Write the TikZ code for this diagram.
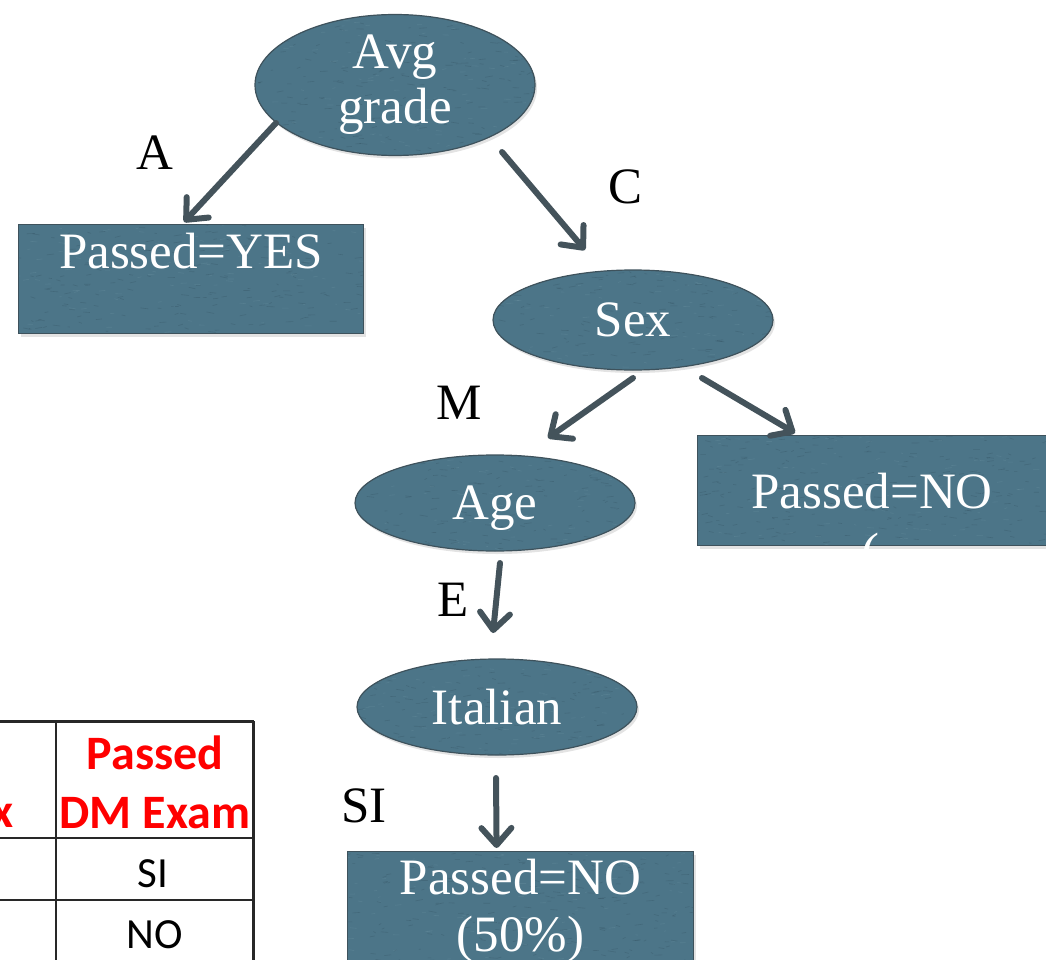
\documentclass[tikz,border=0pt]{standalone}
\usepackage{fontspec}
\setmainfont{Liberation Serif}
\newfontfamily\tablefont{Carlito}
\usetikzlibrary{shapes.geometric,arrows.meta,calc,shadows}

\definecolor{tile}{RGB}{76,117,136}
\definecolor{tiledark}{RGB}{38,62,76}
\definecolor{tilelight}{RGB}{118,156,170}
\definecolor{tileedge}{RGB}{62,82,92}
\definecolor{arrowgray}{RGB}{68,83,91}
\definecolor{examred}{RGB}{255,0,0}
\definecolor{gridline}{RGB}{40,40,40}

\tikzset{
  grain/.style={path picture={
    \foreach \k in {1,...,260}{
      \draw[line width=0.6pt, tiledark, opacity=0.22]
        ([shift={({185*rand},{70*rand})}]path picture bounding box.center)
        -- ++({2+6*rnd},{1.5*rand});
    }
    \foreach \k in {1,...,120}{
      \draw[line width=0.6pt, tilelight, opacity=0.25]
        ([shift={({185*rand},{70*rand})}]path picture bounding box.center)
        -- ++({2+5*rnd},{rand});
    }
  }},
  tileshape/.style={fill=tile, draw=tileedge, line width=1.2pt, grain,
    drop shadow={opacity=0.22, shadow xshift=2pt, shadow yshift=-3pt},
    text=white, inner sep=0pt, font=\fontsize{51}{55}\selectfont},
  oval/.style={tileshape, ellipse, align=center},
  leaf/.style={tileshape, rectangle, anchor=north west},
  branch/.style={text=black, inner sep=0pt, font=\fontsize{51}{51}\selectfont},
  link/.style={draw=arrowgray, line width=6pt, line cap=round,
    -{Straight Barb[length=17pt, width=30pt, line cap=round, line join=round]}},
  headcell/.style={text=examred, inner sep=0pt, align=center,
    font=\tablefont\bfseries\fontsize{48}{59}\selectfont},
  bodycell/.style={text=black, inner sep=0pt, anchor=base,
    font=\tablefont\fontsize{43}{43}\selectfont},
}

\begin{document}
\begin{tikzpicture}[x=1pt, y=-1pt]
  \useasboundingbox (0,0) rectangle (1046,960);
  \clip (0,0) rectangle (1046,960);
  \pgfmathsetseed{41}

  % decision tree nodes
  \node[oval, minimum width=280pt, minimum height=126pt] (avg) at (395,85) {Avg\\grade};
  \node[leaf, minimum width=345pt, minimum height=109pt,
        text height=44pt, text depth=65pt] (yes) at (18,224) {Passed=YES};
  \node[oval, minimum width=280pt, minimum height=100pt] (sex) at (633,320) {Sex};
  \node[oval, minimum width=280pt, minimum height=96pt, text depth=0pt] (age) at (495,503) {Age};
  \node[leaf, minimum width=349pt, minimum height=110pt,
        text height=73pt, text depth=37pt] (nor) at (697,435) {Passed=NO};
  \node[text=white, inner sep=0pt, font=\fontsize{54}{54}\selectfont] (paren) at (870,558) {(};
  \node[oval, minimum width=280pt, minimum height=96pt, text depth=0pt] (ital) at (497,707) {Italian};
  \node[leaf, minimum width=346pt, minimum height=118pt, align=center,
        font=\fontsize{51}{57}\selectfont] (nob) at (347,851) {Passed=NO\\(50\%)};

  % branch labels
  \node[branch] (la) at (155,153) {A};
  \node[branch] (lc) at (625,187) {C};
  \node[branch] (lm) at (459,403) {M};
  \node[branch] (le) at (453,600) {E};
  \node[branch] (lsi) at (364,806) {SI};

  % branches
  \draw[link] ($(avg.center)+(-119,38)$) -- ($(yes.north)+(-7,-2)$);
  \draw[link] ($(avg.center)+(107,67)$) -- ($(sex.center)+(-48,-70)$);
  \draw[link] ($(sex.center)+(0,58)$) -- ($(age.center)+(53,-65)$);
  \draw[link] ($(sex.center)+(69,58)$) -- ($(nor.north west)+(98,-2)$);
  \draw[link] ($(age.center)+(5,60)$) -- ($(ital.center)+(-4,-74)$);
  \draw[link] ($(ital.center)+(-1,71)$) -- ($(nob.north)+(-24,-3)$);

  % table fragment
  \draw[gridline, line width=3pt] (0,721) -- (254,721);
  \draw[gridline, line width=3pt] (253,721) -- (253,960);
  \draw[gridline, line width=2pt] (56,721) -- (56,960);
  \draw[gridline, line width=2.5pt] (0,838) -- (254,838);
  \draw[gridline, line width=1.5pt] (0,900) -- (254,900);

  \node[headcell] (hpass) at (155,782) {Passed\\DM Exam};
  \node[headcell, anchor=base] (hsex) at (3,827) {x};
  \node[bodycell] (c1) at (153,887) {SI};
  \node[bodycell] (c2) at (155,948) {NO};
\end{tikzpicture}
\end{document}
